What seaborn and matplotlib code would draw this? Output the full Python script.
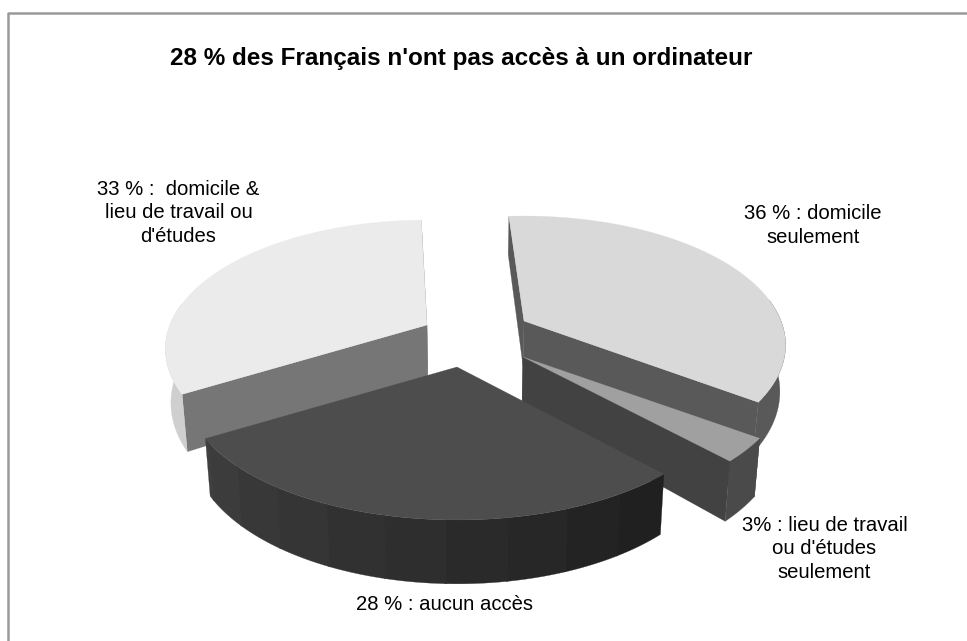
import numpy as np
import seaborn as sns
import matplotlib.pyplot as plt

# Share of each slice, in percent
categories = ['domicile seulement', "lieu de travail ou d'études seulement", 'aucun accès', 'domicile & lieu de travail']
values = [36, 3, 28, 33]
labels = ["36 % : domicile\nseulement",
          "3% : lieu de travail\nou d'études\nseulement",
          "28 % : aucun accès",
          "33 % :  domicile &\nlieu de travail ou\nd'études"]
title = "28 % des Français n'ont pas accès à un ordinateur"

# Colours of top, cut face and outer rim
top_colors = ['#d9d9d9', '#a0a0a0', '#4d4d4d', '#ebebeb']
face_colors = ['#595959', '#424242', None, '#767676']
rim_colors = ['#595959', '#4a4a4a', None, '#cfcfcf']

# Where each exploded slice has its tip, in pixels, and how it is adjusted
apex = [(524, 321), (523, 357), (457, 367), (427, 325)]
turn = [0, 0, 1.5, 2.5]
widen = [1, 1.01, 1.035, 1]
depths = [45, 52, 52, 52]
label_pos = [(813, 225.5), (824.5, 549), (445, 605), (178.5, 213)]

start_angle = -4
scale_x, scale_y = 257, 124.5
persp = 0.186
vanish_x = 470
shrink = 0.982

sns.set_theme(style='white')
plt.rcParams['font.family'] = ['Liberation Sans', 'DejaVu Sans']


def project(i, theta, radius=1.0, low=False):
    # angle runs clockwise from the back of the pie
    t = np.radians(theta)
    x = radius * np.sin(t)
    y = radius * np.cos(t)
    w = 1 + persp * y
    u = apex[i][0] + scale_x * widen[i] * x / w
    v = apex[i][1] - scale_y * y / w
    if low:
        u = vanish_x + (u - vanish_x) * shrink
        v = v + depths[i] / w
    return u, v


def arc(i, a, b, low=False):
    thetas = np.linspace(a, b, 80)
    return project(i, thetas, low=low)


def side(ax, i, a, b, color):
    # band between the upper and lower edge of the rim
    ux, uy = arc(i, a, b)
    lx, ly = arc(i, a, b, low=True)
    ax.fill(np.r_[ux, lx[::-1]], np.r_[uy, ly[::-1]], color=color, lw=0.2)


def cut(ax, i, theta, color):
    ex, ey = project(i, theta)
    fx, fy = project(i, theta, low=True)
    cx, cy = project(i, 0, radius=0.0, low=True)
    ax.fill([apex[i][0], ex, fx, cx], [apex[i][1], ey, fy, cy], color=color, lw=0.2)


fig = plt.figure(figsize=(9.67, 6.41), dpi=100)
ax = fig.add_axes([0, 0, 1, 1])
ax.set_xlim(0, 967)
ax.set_ylim(641, 0)
ax.axis('off')

# Chart frame, only top and left show in the picture
ax.plot([7.5, 7.5, 967], [641, 13, 13], color='#9a9a9a', lw=1.8, solid_capstyle='butt')

bounds = start_angle + np.r_[0, np.cumsum(values)] * 3.6

# Back slices first, the front one last
for i in [0, 3, 1, 2]:
    a, b = bounds[i] + turn[i], bounds[i + 1] + turn[i]
    if face_colors[i] is not None:
        cut(ax, i, a, face_colors[i])
        cut(ax, i, b, face_colors[i])
    # only the part of the rim that faces the viewer
    ra, rb = max(a, 80), min(b, 280)
    if rim_colors[i] is not None:
        side(ax, i, ra, rb, rim_colors[i])
    else:
        # front slice: rim in narrow bands that get darker to the right
        steps = np.arange(a, b, 11)
        for s in steps:
            grey = np.interp(s, [a, b], [0.125, 0.25])
            side(ax, i, s, min(s + 11.3, b), (grey, grey, grey))
    ux, uy = arc(i, a, b)
    ax.fill(np.r_[apex[i][0], ux], np.r_[apex[i][1], uy], color=top_colors[i], lw=0.2)

for text, pos in zip(labels, label_pos):
    ax.text(pos[0], pos[1], text, fontsize=14.6, ha='center', va='center', color='black',
            linespacing=1.3, multialignment='center')

ax.text(461.5, 65, title, fontsize=17.5, fontweight='bold', ha='center', va='baseline', color='black')

plt.savefig('out.png', dpi=100)
plt.close()
